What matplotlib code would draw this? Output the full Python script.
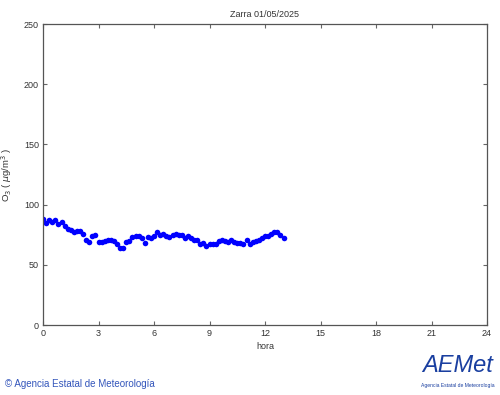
import matplotlib
matplotlib.use('Agg')
import matplotlib.pyplot as plt
import numpy as np

# datos de O3 cada 10 minutos, 00:00 a 13:00
o3 = [88, 85, 87, 86, 87, 84, 86, 82, 80, 79,
      77, 78, 78, 76, 71, 69, 74, 75, 69, 69,
      70, 71, 71, 70, 67, 64, 64, 69, 70, 73,
      74, 74, 72, 68, 73, 72, 74, 77, 75, 76,
      74, 73, 75, 76, 75, 75, 72, 74, 72, 71,
      71, 67, 68, 66, 67, 67, 67, 70, 71, 70,
      69, 71, 69, 68, 68, 67, 71, 67, 69, 70,
      71, 72, 74, 74, 76, 77, 77, 75, 72]
hora = np.arange(len(o3)) / 6.0
xticks = [0, 3, 6, 9, 12, 15, 18, 21, 24]
yticks = [0, 50, 100, 150, 200, 250]

plt.rcParams['font.family'] = ['Liberation Sans', 'DejaVu Sans']
txt = '#333333'

fig = plt.figure(figsize=(5, 3.95), dpi=100)
ax = fig.add_axes([0.086, 0.177, 0.888, 0.762])
ax.plot(hora, o3, 'o', color='#0000ff', markersize=4, markeredgewidth=0)
ax.set_xlim(0, 24)
ax.set_ylim(0, 250)
ax.set_xticks(xticks)
ax.set_yticks(yticks)
ax.tick_params(direction='in', length=3, width=0.8, labelsize=6.5, colors=txt,
               top=True, right=True, pad=3)
ax.tick_params(color='#666666')
for s in ax.spines.values():
    s.set_color('#555555')
    s.set_linewidth(0.9)
ax.set_title('Zarra 01/05/2025', fontsize=6.5, color=txt, pad=5)
ax.set_xlabel('hora', fontsize=6.5, color=txt, labelpad=3)
ax.set_ylabel(r'O$_3$ ( $\mu$g/m$^3$ )', fontsize=6.8, color=txt, labelpad=7)

# pie
fig.text(0.01, 0.028, '© Agencia Estatal de Meteorología', fontsize=7,
         color='#3355bb', ha='left', va='center')
fig.text(0.915, 0.075, 'AEMet', fontsize=17, color='#1a3fa0', ha='center',
         va='center', style='italic')
fig.text(0.915, 0.025, 'Agencia Estatal de Meteorología', fontsize=3.6,
         color='#1a3fa0', ha='center', va='center')

fig.savefig('out.png', dpi=100)
